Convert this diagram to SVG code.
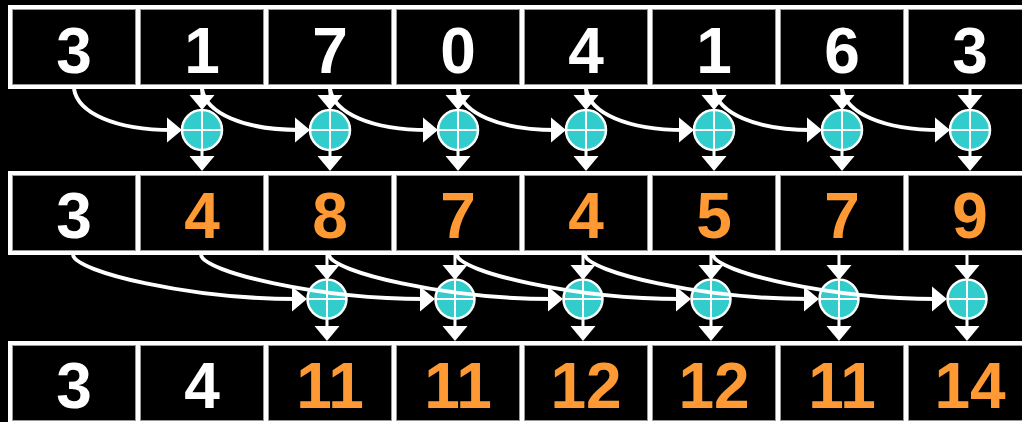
<svg xmlns="http://www.w3.org/2000/svg" width="1022" height="422" viewBox="0 0 1022 422">
<style>
.frame{fill:#ffffff}
.cell{fill:#000000;stroke:#9a9a9a;stroke-width:1}
.num{font-family:"Liberation Sans",Arial,sans-serif;font-weight:bold;font-size:64px;text-anchor:middle}
.w{fill:#ffffff}
.o{fill:#ff9933}
.add{fill:#33cccc;stroke:#ffffff;stroke-width:2.5}
.cross{stroke:#ffffff;stroke-width:2}
.curve{fill:none;stroke:#ffffff;stroke-width:4}
.stem{fill:none;stroke:#ffffff;stroke-width:3}
.head{fill:#ffffff}
</style>
<defs>
<path id="ad" class="head" d="M-12.5,-15 L12.5,-15 L0,0 Z"/>
<path id="ar" class="head" d="M-15,-12.5 L0,0 L-15,12.5 Z"/>
</defs>
<rect x="0" y="0" width="1022" height="422" fill="#000000"/>
<g id="frames">
<rect class="frame" x="8" y="5" width="1030" height="84"/>
<rect class="frame" x="8" y="171" width="1030" height="84"/>
<rect class="frame" x="8" y="341" width="1030" height="84"/>
</g>
<g id="row1">
<g id="r1c1"><rect class="cell" x="12.5" y="9.5" width="123" height="75"/><text class="num w" x="74" y="73">3</text></g>
<g id="r1c2"><rect class="cell" x="140.5" y="9.5" width="123" height="75"/><text class="num w" x="202" y="73">1</text></g>
<g id="r1c3"><rect class="cell" x="268.5" y="9.5" width="123" height="75"/><text class="num w" x="330" y="73">7</text></g>
<g id="r1c4"><rect class="cell" x="396.5" y="9.5" width="123" height="75"/><text class="num w" x="458" y="73">0</text></g>
<g id="r1c5"><rect class="cell" x="524.5" y="9.5" width="123" height="75"/><text class="num w" x="586" y="73">4</text></g>
<g id="r1c6"><rect class="cell" x="652.5" y="9.5" width="123" height="75"/><text class="num w" x="714" y="73">1</text></g>
<g id="r1c7"><rect class="cell" x="780.5" y="9.5" width="123" height="75"/><text class="num w" x="842" y="73">6</text></g>
<g id="r1c8"><rect class="cell" x="908.5" y="9.5" width="123" height="75"/><text class="num w" x="970" y="73">3</text></g>
</g>
<g id="row2">
<g id="r2c1"><rect class="cell" x="12.5" y="175.5" width="123" height="75"/><text class="num w" x="74" y="238">3</text></g>
<g id="r2c2"><rect class="cell" x="140.5" y="175.5" width="123" height="75"/><text class="num o" x="202" y="238">4</text></g>
<g id="r2c3"><rect class="cell" x="268.5" y="175.5" width="123" height="75"/><text class="num o" x="330" y="238">8</text></g>
<g id="r2c4"><rect class="cell" x="396.5" y="175.5" width="123" height="75"/><text class="num o" x="458" y="238">7</text></g>
<g id="r2c5"><rect class="cell" x="524.5" y="175.5" width="123" height="75"/><text class="num o" x="586" y="238">4</text></g>
<g id="r2c6"><rect class="cell" x="652.5" y="175.5" width="123" height="75"/><text class="num o" x="714" y="238">5</text></g>
<g id="r2c7"><rect class="cell" x="780.5" y="175.5" width="123" height="75"/><text class="num o" x="842" y="238">7</text></g>
<g id="r2c8"><rect class="cell" x="908.5" y="175.5" width="123" height="75"/><text class="num o" x="970" y="238">9</text></g>
</g>
<g id="row3">
<g id="r3c1"><rect class="cell" x="12.5" y="345.5" width="123" height="75"/><text class="num w" x="74" y="408">3</text></g>
<g id="r3c2"><rect class="cell" x="140.5" y="345.5" width="123" height="75"/><text class="num w" x="202" y="408">4</text></g>
<g id="r3c3"><rect class="cell" x="268.5" y="345.5" width="123" height="75"/><text class="num o" x="330" y="408">11</text></g>
<g id="r3c4"><rect class="cell" x="396.5" y="345.5" width="123" height="75"/><text class="num o" x="458" y="408">11</text></g>
<g id="r3c5"><rect class="cell" x="524.5" y="345.5" width="123" height="75"/><text class="num o" x="586" y="408">12</text></g>
<g id="r3c6"><rect class="cell" x="652.5" y="345.5" width="123" height="75"/><text class="num o" x="714" y="408">12</text></g>
<g id="r3c7"><rect class="cell" x="780.5" y="345.5" width="123" height="75"/><text class="num o" x="842" y="408">11</text></g>
<g id="r3c8"><rect class="cell" x="908.5" y="345.5" width="123" height="75"/><text class="num o" x="970" y="408">14</text></g>
</g>
<g id="adders1">
<g id="a1c2"><circle class="add" cx="202" cy="130" r="20"/><path class="cross" d="M182,130 H222 M202,110 V150"/></g>
<g id="a1c3"><circle class="add" cx="330" cy="130" r="20"/><path class="cross" d="M310,130 H350 M330,110 V150"/></g>
<g id="a1c4"><circle class="add" cx="458" cy="130" r="20"/><path class="cross" d="M438,130 H478 M458,110 V150"/></g>
<g id="a1c5"><circle class="add" cx="586" cy="130" r="20"/><path class="cross" d="M566,130 H606 M586,110 V150"/></g>
<g id="a1c6"><circle class="add" cx="714" cy="130" r="20"/><path class="cross" d="M694,130 H734 M714,110 V150"/></g>
<g id="a1c7"><circle class="add" cx="842" cy="130" r="20"/><path class="cross" d="M822,130 H862 M842,110 V150"/></g>
<g id="a1c8"><circle class="add" cx="970" cy="130" r="20"/><path class="cross" d="M950,130 H990 M970,110 V150"/></g>
</g>
<g id="adders2">
<g id="a2c3"><circle class="add" cx="327" cy="299" r="19.5"/><path class="cross" d="M307.5,299 H346.5 M327,279.5 V318.5"/></g>
<g id="a2c4"><circle class="add" cx="455" cy="299" r="19.5"/><path class="cross" d="M435.5,299 H474.5 M455,279.5 V318.5"/></g>
<g id="a2c5"><circle class="add" cx="583" cy="299" r="19.5"/><path class="cross" d="M563.5,299 H602.5 M583,279.5 V318.5"/></g>
<g id="a2c6"><circle class="add" cx="711" cy="299" r="19.5"/><path class="cross" d="M691.5,299 H730.5 M711,279.5 V318.5"/></g>
<g id="a2c7"><circle class="add" cx="839" cy="299" r="19.5"/><path class="cross" d="M819.5,299 H858.5 M839,279.5 V318.5"/></g>
<g id="a2c8"><circle class="add" cx="967" cy="299" r="19.5"/><path class="cross" d="M947.5,299 H986.5 M967,279.5 V318.5"/></g>
</g>
<g id="connectors">
<path class="stem" d="M202,89 V100 M202,151 V161 M330,89 V100 M330,151 V161 M458,89 V100 M458,151 V161 M586,89 V100 M586,151 V161 M714,89 V100 M714,151 V161 M842,89 V100 M842,151 V161 M970,89 V100 M970,151 V161"/>
<use href="#ad" x="202" y="110"/><use href="#ad" x="202" y="171"/>
<use href="#ad" x="330" y="110"/><use href="#ad" x="330" y="171"/>
<use href="#ad" x="458" y="110"/><use href="#ad" x="458" y="171"/>
<use href="#ad" x="586" y="110"/><use href="#ad" x="586" y="171"/>
<use href="#ad" x="714" y="110"/><use href="#ad" x="714" y="171"/>
<use href="#ad" x="842" y="110"/><use href="#ad" x="842" y="171"/>
<use href="#ad" x="970" y="110"/><use href="#ad" x="970" y="171"/>
<path class="curve" d="M74,89 C78,113 115,130 172,130"/>
<path class="curve" d="M202,89 C206,113 243,130 300,130"/>
<path class="curve" d="M330,89 C334,113 371,130 428,130"/>
<path class="curve" d="M458,89 C462,113 499,130 556,130"/>
<path class="curve" d="M586,89 C590,113 627,130 684,130"/>
<path class="curve" d="M714,89 C718,113 755,130 812,130"/>
<path class="curve" d="M842,89 C846,113 883,130 940,130"/>
<use href="#ar" x="182" y="130"/><use href="#ar" x="310" y="130"/><use href="#ar" x="438" y="130"/><use href="#ar" x="566" y="130"/><use href="#ar" x="694" y="130"/><use href="#ar" x="822" y="130"/><use href="#ar" x="950" y="130"/>
<path class="stem" d="M327,255 V270 M327,319 V331 M455,255 V270 M455,319 V331 M583,255 V270 M583,319 V331 M711,255 V270 M711,319 V331 M839,255 V270 M839,319 V331 M967,255 V270 M967,319 V331"/>
<use href="#ad" x="327" y="280"/><use href="#ad" x="327" y="341"/>
<use href="#ad" x="455" y="280"/><use href="#ad" x="455" y="341"/>
<use href="#ad" x="583" y="280"/><use href="#ad" x="583" y="341"/>
<use href="#ad" x="711" y="280"/><use href="#ad" x="711" y="341"/>
<use href="#ad" x="839" y="280"/><use href="#ad" x="839" y="341"/>
<use href="#ad" x="967" y="280"/><use href="#ad" x="967" y="341"/>
<path class="curve" d="M73,255 C76,272 190,299 297,299"/>
<path class="curve" d="M201,255 C204,272 318,299 425,299"/>
<path class="curve" d="M329,255 C332,272 446,299 553,299"/>
<path class="curve" d="M457,255 C460,272 574,299 681,299"/>
<path class="curve" d="M585,255 C588,272 702,299 809,299"/>
<path class="curve" d="M713,255 C716,272 830,299 937,299"/>
<use href="#ar" x="307" y="299"/><use href="#ar" x="435" y="299"/><use href="#ar" x="563" y="299"/><use href="#ar" x="691" y="299"/><use href="#ar" x="819" y="299"/><use href="#ar" x="947" y="299"/>
</g>
</svg>
